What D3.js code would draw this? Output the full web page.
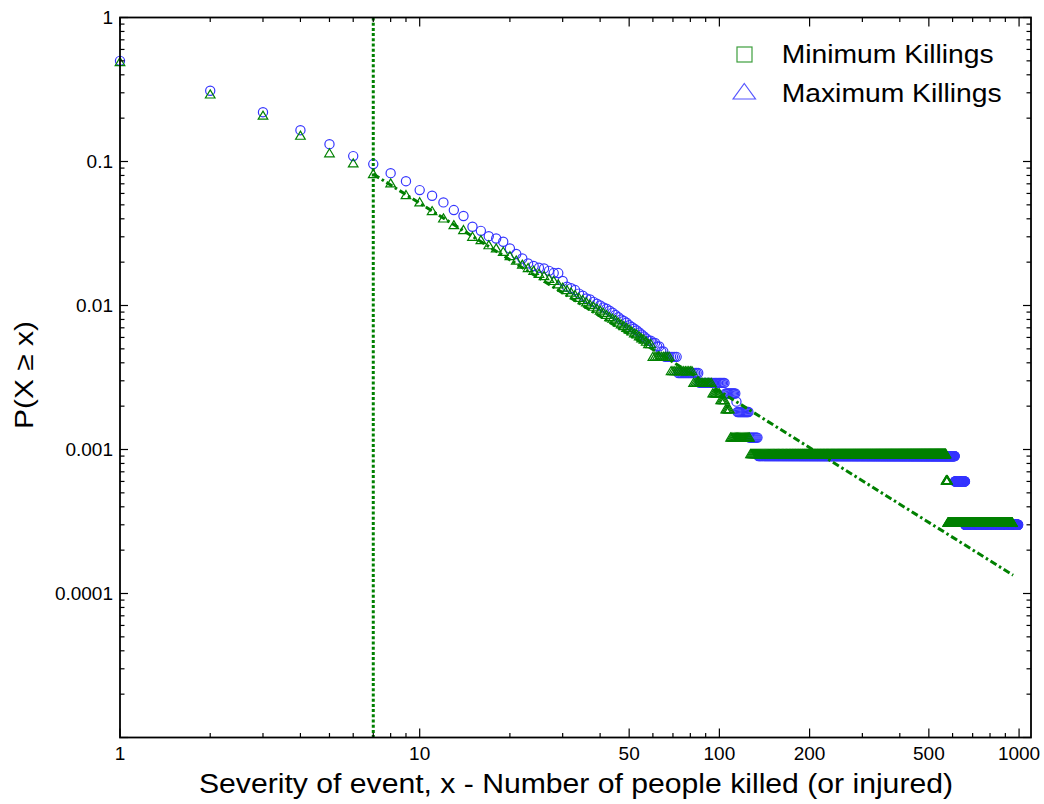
<!DOCTYPE html>
<html><head><meta charset="utf-8">
<script src="https://cdn.jsdelivr.net/npm/d3@7"></script>
<style>
body{margin:0;background:#fff}
svg{display:block}
text{font-family:"Liberation Sans",Arial,Helvetica,sans-serif;fill:#000}
</style>
</head><body>
<svg id="chart" width="1044" height="804"></svg>
<script>
// ---- Data: complementary CDF P(X >= x), stored as runs.
// Each run starts at *From[i] and holds its value up to the next run start - 1
// (the last run holds up to *Last). A marker is drawn at every integer x.
const maxFrom = [1,2,3,4,5,6,7,8,9,10,11,12,13,14,15,16,17,18,19,20,
  21,22,23,24,25,26,27,28,29,30,31,32,33,34,35,36,37,38,39,40,
  41,42,43,44,45,46,47,48,49,50,51,52,53,54,55,56,57,58,60,62,64,66,
  73,86,105,114,115,126,135,611,661];
const maxP = [0.50,0.31,0.22,0.165,0.132,0.109,0.096,0.083,0.073,0.0633,
  0.0578,0.052,0.046,0.0418,0.0352,0.033,0.0303,0.0292,0.0277,0.0249,
  0.0228,0.0212,0.0196,0.0188,0.0183,0.0181,0.0174,0.0168,0.0168,0.0148,
  0.0135,0.0132,0.0128,0.0121,0.0117,0.0112,0.0110,0.0106,0.0103,0.0100,
  0.0097,0.0095,0.0092,0.0089,0.0086,0.0083,0.0080,0.0078,0.0076,0.0073,
  0.0071,0.0069,0.0067,0.0065,0.0063,0.0061,0.0059,0.0057,0.0055,0.0052,0.0048,0.0044,
  0.0034,0.0029,0.00245,0.00215,0.00182,0.00121,0.00090,0.00060,0.00030];
const maxLast = 993;

const minFrom = [1,2,3,4,5,6,7,8,9,10,11,12,13,14,15,16,17,18,19,20,
  21,22,23,24,25,26,27,28,29,30,31,32,33,34,35,36,37,38,39,40,
  41,42,43,44,45,46,47,48,49,50,51,52,53,54,55,56,57,58,
  60,69,82,95,101,105,109,127,571,578];
const minP = [0.49,0.292,0.208,0.151,0.114,0.097,0.0817,0.0704,0.0584,0.052,
  0.0452,0.0402,0.0361,0.0334,0.030,0.0284,0.0262,0.0249,0.0236,0.022,
  0.0205,0.0192,0.0182,0.0174,0.0166,0.0160,0.0153,0.0148,0.0140,0.0133,
  0.0128,0.0123,0.0118,0.0113,0.0109,0.0105,0.0101,0.0098,0.0095,0.0092,
  0.0089,0.0086,0.0083,0.0081,0.0079,0.0076,0.0074,0.0072,0.0070,0.0068,
  0.0066,0.0064,0.0063,0.0061,0.0059,0.0058,0.0056,0.0054,
  0.0044,0.0035,0.0029,0.00245,0.0022,0.0019,0.00121,0.00093,0.00061,0.00031];
const minLast = 950;

// power-law fit (dash-dot) end points and the xmin threshold
const fitX = [7, 955];
const fitP = [0.0817, 0.000134];
const xMin = 7;

// axis tick labels
const xTickValues = [1, 10, 50, 100, 200, 500, 1000];
const xTickLabels = ["1", "10", "50", "100", "200", "500", "1000"];
const yTickValues = [1, 0.1, 0.01, 0.001, 0.0001];
const yTickLabels = ["1", "0.1", "0.01", "0.001", "0.0001"];

const legendLabels = ["Minimum Killings", "Maximum Killings"];
const xTitle = "Severity of event, x - Number of people killed (or injured)";
const yTitle = "P(X \u2265 x)";

// ---- Layout
const L = 120, R = 1031, T = 17.5, B = 737.5;
const GREEN = "#008000", BLUE = "#3535ff";

const svg = d3.select("#chart");
const x = d3.scaleLog().domain([1, 1096]).range([L, R]);
const y = d3.scaleLog().domain([1e-5, 1]).range([B, T]);

function expand(from, p, last) {
  const out = [];
  for (let i = 0; i < from.length; i++) {
    const end = i + 1 < from.length ? from[i + 1] - 1 : last;
    for (let v = from[i]; v <= end; v++) out.push({x: v, p: p[i]});
  }
  return out;
}
const maxPts = expand(maxFrom, maxP, maxLast);
const minPts = expand(minFrom, minP, minLast);

// ---- Markers: blue circles (max) below, green triangles (min) on top
svg.append("g").selectAll("circle").data(maxPts).join("circle")
  .attr("cx", d => x(d.x)).attr("cy", d => y(d.p)).attr("r", 4.6)
  .attr("fill", "none").attr("stroke", BLUE).attr("stroke-width", 1.2);

const tri = "M0,-4.6L4.8,3.5L-4.8,3.5Z";
svg.append("g").selectAll("path").data(minPts).join("path")
  .attr("d", tri)
  .attr("transform", d => `translate(${x(d.x)},${y(d.p)})`)
  .attr("fill", "none").attr("stroke", GREEN).attr("stroke-width", 1.2);

// ---- Fit line and xmin line
svg.append("path")
  .datum(fitX.map((v, i) => ({x: v, p: fitP[i]})))
  .attr("d", d3.line().x(d => x(d.x)).y(d => y(d.p)))
  .attr("fill", "none").attr("stroke", GREEN).attr("stroke-width", 3)
  .attr("stroke-dasharray", "7,3,2.5,3");

svg.append("line")
  .attr("x1", x(xMin)).attr("x2", x(xMin)).attr("y1", T).attr("y2", B)
  .attr("stroke", GREEN).attr("stroke-width", 3).attr("stroke-dasharray", "3,2.2");

// ---- Ticks (inward on all four sides)
const tg = svg.append("g").attr("stroke", "#000").attr("stroke-width", 1.2);
x.ticks().filter(t => t >= 1 && t <= 1096).forEach(t => {
  const len = xTickValues.includes(t) ? 9 : 4.5;
  const px = x(t);
  tg.append("line").attr("x1", px).attr("x2", px).attr("y1", B).attr("y2", B - len);
  tg.append("line").attr("x1", px).attr("x2", px).attr("y1", T).attr("y2", T + len);
});
y.ticks().forEach(t => {
  const major = yTickValues.some(v => Math.abs(v - t) / v < 1e-6) || Math.abs(t - 1e-5) < 1e-12;
  const len = major ? 8 : 4.5;
  const py = y(t);
  tg.append("line").attr("x1", L).attr("x2", L + len).attr("y1", py).attr("y2", py);
  tg.append("line").attr("x1", R).attr("x2", R - len).attr("y1", py).attr("y2", py);
});

// frame
svg.append("rect").attr("x", L).attr("y", T).attr("width", R - L).attr("height", B - T)
  .attr("fill", "none").attr("stroke", "#000").attr("stroke-width", 1.8);

// tick labels
svg.append("g").selectAll("text").data(xTickValues).join("text")
  .attr("x", d => x(d)).attr("y", 760).attr("text-anchor", "middle")
  .attr("font-size", 19).text((d, i) => xTickLabels[i]);
svg.append("g").selectAll("text").data(yTickValues).join("text")
  .attr("x", 113).attr("y", d => y(d) + 6.5).attr("text-anchor", "end")
  .attr("font-size", 19).text((d, i) => yTickLabels[i]);

// axis titles
svg.append("text").attr("x", 199).attr("y", 793)
  .attr("font-size", 27.5).attr("textLength", 754).attr("lengthAdjust", "spacingAndGlyphs")
  .text(xTitle);
svg.append("text").attr("transform", "translate(33,375) rotate(-90)")
  .attr("text-anchor", "middle").attr("font-size", 26)
  .attr("textLength", 108).attr("lengthAdjust", "spacingAndGlyphs")
  .text(yTitle);

// legend
const lg = svg.append("g");
lg.append("rect").attr("x", 737).attr("y", 47).attr("width", 15).attr("height", 15)
  .attr("fill", "none").attr("stroke", "#3d9e3d").attr("stroke-width", 1.2);
lg.append("path").attr("d", "M744.3,83.5L755.5,99L733.1,99Z")
  .attr("fill", "none").attr("stroke", "#5555ff").attr("stroke-width", 1.2);
lg.append("text").attr("x", 781.7).attr("y", 63.3).attr("font-size", 25.5)
  .attr("textLength", 212).attr("lengthAdjust", "spacingAndGlyphs").text(legendLabels[0]);
lg.append("text").attr("x", 781.7).attr("y", 101.7).attr("font-size", 25.5)
  .attr("textLength", 220).attr("lengthAdjust", "spacingAndGlyphs").text(legendLabels[1]);
</script>
</body></html>
